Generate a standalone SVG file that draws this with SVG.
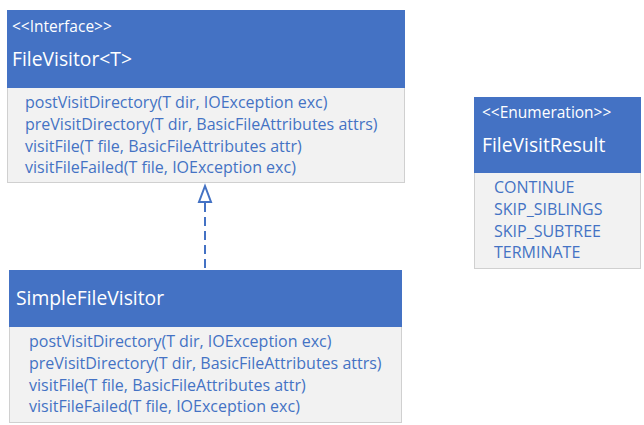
<svg xmlns="http://www.w3.org/2000/svg" width="644" height="425" viewBox="0 0 644 425">
<style>
.hdr{fill:#4472C4}
.body{fill:#F2F2F2;stroke:#D0D0D0;stroke-width:1}
.st{font-family:"Open Sans","Liberation Sans",sans-serif;font-size:15.5px;fill:#FFFFFF}
.nm{font-family:"Open Sans","Liberation Sans",sans-serif;font-size:19.3px;fill:#FFFFFF}
.m{font-family:"Open Sans","Liberation Sans",sans-serif;font-size:16px;fill:#4472C4}
.conn{stroke:#4472C4;stroke-width:2;fill:none}
</style>
<rect width="644" height="425" fill="#FFFFFF"/>
<g id="FileVisitor">
<rect class="body" x="7.5" y="10.5" width="397" height="172"/>
<rect class="hdr" x="7" y="10" width="398" height="78"/>
<text class="st" x="12" y="32">&lt;&lt;Interface&gt;&gt;</text>
<text class="nm" x="12" y="66">FileVisitor&lt;T&gt;</text>
<text class="m" x="25" y="108">postVisitDirectory(T dir, IOException exc)</text>
<text class="m" x="25" y="130">preVisitDirectory(T dir, BasicFileAttributes attrs)</text>
<text class="m" x="25" y="152">visitFile(T file, BasicFileAttributes attr)</text>
<text class="m" x="25" y="173">visitFileFailed(T file, IOException exc)</text>
</g>
<g id="SimpleFileVisitor">
<rect class="body" x="9.5" y="270.5" width="392" height="152"/>
<rect class="hdr" x="9" y="270" width="393" height="57"/>
<text class="nm" x="16" y="305">SimpleFileVisitor</text>
<text class="m" x="29" y="347">postVisitDirectory(T dir, IOException exc)</text>
<text class="m" x="29" y="369">preVisitDirectory(T dir, BasicFileAttributes attrs)</text>
<text class="m" x="29" y="391">visitFile(T file, BasicFileAttributes attr)</text>
<text class="m" x="29" y="412">visitFileFailed(T file, IOException exc)</text>
</g>
<g id="FileVisitResult">
<rect class="body" x="474.5" y="97.5" width="166" height="171"/>
<rect class="hdr" x="474" y="97" width="167" height="76"/>
<text class="st" x="482" y="118">&lt;&lt;Enumeration&gt;&gt;</text>
<text class="nm" x="482" y="152">FileVisitResult</text>
<text class="m" x="494" y="193">CONTINUE</text>
<text class="m" x="494" y="215">SKIP_SIBLINGS</text>
<text class="m" x="494" y="237">SKIP_SUBTREE</text>
<text class="m" x="494" y="258">TERMINATE</text>
</g>
<g id="connectors">
<line class="conn" x1="205" y1="203" x2="205" y2="270" stroke-dasharray="9,5"/>
<polygon class="conn" points="205,186 199,202 211,202"/>
</g>
</svg>
